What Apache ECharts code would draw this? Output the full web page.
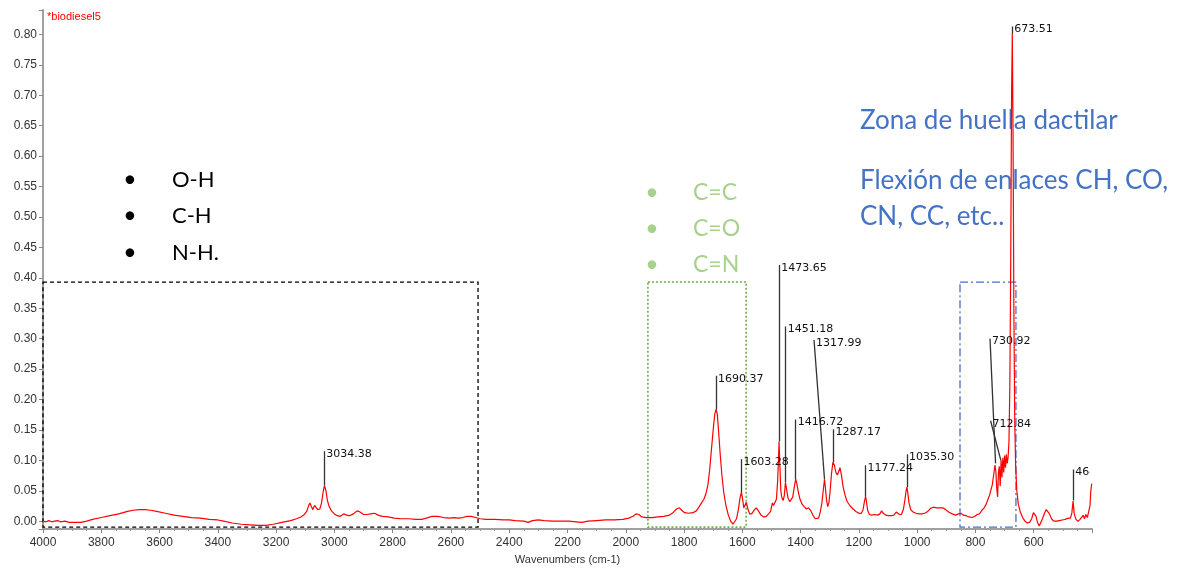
<!DOCTYPE html>
<html>
<head>
<meta charset="utf-8">
<script src="https://cdn.jsdelivr.net/npm/echarts@6/dist/echarts.min.js"></script>
<style>
html,body{margin:0;padding:0;background:#fff;}
#chart{width:1183px;height:570px;}
</style>
</head>
<body>
<div id="chart"></div>
<script>
// Spectrum: wavenumbers (cm-1) and absorbance
const wavenumbers = [
4000,3990,3980,3970,3960,3950,3940,3925,3910,3890,3870,3850,3830,3800,3770,3740,3710,3690,3670,3650,
3630,3610,3580,3550,3520,3490,3460,3430,3400,3380,3350,3320,3290,3260,3235,3210,3180,3150,3130,3115,
3105,3095,3088,3084,3079,3074,3068,3063,3057,3050,3044,3038,3034,3029,3024,3018,3010,3000,2990,2980,
2968,2958,2948,2935,2922,2912,2900,2888,2875,2862,2850,2835,2815,2795,2770,2745,2720,2700,2685,2665,
2645,2625,2605,2590,2575,2560,2545,2530,2515,2500,2480,2450,2420,2400,2380,2350,2335,2320,2300,2280,
2250,2220,2195,2170,2150,2130,2100,2070,2040,2010,1990,1975,1965,1955,1945,1930,1910,1890,1870,1850,
1838,1826,1816,1808,1798,1785,1770,1758,1748,1740,1732,1725,1718,1712,1706,1700,1695,1690,1686,1681,
1676,1670,1664,1656,1648,1640,1632,1626,1620,1614,1608,1603,1599,1595,1591,1586,1581,1575,1568,1560,
1552,1545,1536,1527,1518,1510,1503,1497,1493,1488,1483,1479,1476,1474,1471,1468,1464,1460,1456,1452,
1448,1443,1437,1432,1427,1422,1417,1413,1408,1402,1395,1388,1380,1373,1366,1358,1350,1344,1338,1332,
1327,1322,1318,1315,1311,1307,1303,1299,1294,1289,1284,1279,1274,1269,1265,1260,1254,1247,1240,1230,
1220,1210,1200,1192,1186,1181,1177,1174,1170,1164,1156,1146,1136,1128,1122,1116,1108,1098,1088,1080,
1072,1067,1061,1054,1047,1042,1038,1035,1032,1028,1022,1014,1004,994,984,974,964,954,944,934,
924,912,902,892,880,868,858,850,842,832,822,812,802,794,786,778,770,763,757,752,
747,742,737,733,730,727,724,721,718,715,712,709,706,703,700,697,694,691,688,685,
682,679,676,673.5,671,668,665,662,658,653,646,638,630,622,614,607,601,597,592,587,
581,576,570,563,557,552,546,539,531,522,512,502,492,482,474,469,465,461,455,448,
441,435,430,426,421,416,411,407,404,401
];
const absorbance = [
0.000,-0.001,0.001,-0.001,0.000,0.001,-0.001,0.000,-0.002,-0.002,-0.002,0.000,0.003,0.006,0.009,0.012,0.016,0.018,0.019,0.019,
0.018,0.016,0.013,0.010,0.008,0.006,0.005,0.003,0.002,0.000,-0.003,-0.005,-0.006,-0.007,-0.007,-0.005,-0.002,0.001,0.004,0.007,
0.010,0.016,0.026,0.030,0.024,0.019,0.026,0.024,0.019,0.020,0.030,0.050,0.059,0.050,0.034,0.024,0.017,0.012,0.009,0.008,
0.012,0.010,0.009,0.012,0.017,0.015,0.011,0.011,0.012,0.013,0.010,0.008,0.007,0.005,0.004,0.004,0.003,0.003,0.005,0.008,
0.008,0.006,0.005,0.006,0.005,0.006,0.008,0.008,0.006,0.004,0.003,0.003,0.002,0.002,0.001,0.000,-0.002,0.001,0.002,0.001,
0.000,0.000,0.000,-0.001,-0.002,0.000,0.001,0.002,0.002,0.003,0.005,0.008,0.012,0.011,0.007,0.006,0.006,0.007,0.008,0.010,
0.014,0.020,0.022,0.018,0.014,0.013,0.014,0.017,0.024,0.030,0.036,0.045,0.060,0.085,0.118,0.150,0.175,0.184,0.176,0.145,
0.110,0.075,0.048,0.025,0.010,0.000,-0.005,-0.004,0.004,0.018,0.038,0.048,0.036,0.022,0.026,0.031,0.020,0.012,0.012,0.018,
0.022,0.017,0.010,0.007,0.008,0.012,0.016,0.030,0.026,0.026,0.036,0.065,0.100,0.131,0.090,0.050,0.038,0.034,0.042,0.064,
0.052,0.038,0.032,0.030,0.040,0.055,0.069,0.062,0.048,0.036,0.028,0.024,0.020,0.022,0.018,0.010,0.004,0.001,0.005,0.016,
0.030,0.052,0.069,0.055,0.035,0.024,0.030,0.048,0.078,0.097,0.092,0.080,0.076,0.082,0.088,0.076,0.056,0.042,0.032,0.025,
0.020,0.016,0.013,0.013,0.018,0.032,0.041,0.032,0.018,0.011,0.010,0.011,0.010,0.012,0.017,0.013,0.010,0.009,0.009,0.010,
0.015,0.015,0.011,0.011,0.020,0.035,0.050,0.056,0.046,0.030,0.019,0.015,0.013,0.012,0.012,0.013,0.016,0.021,0.023,0.022,
0.022,0.022,0.019,0.015,0.012,0.010,0.012,0.013,0.010,0.009,0.007,0.006,0.008,0.011,0.012,0.018,0.022,0.028,0.036,0.042,
0.040,0.060,0.078,0.092,0.082,0.055,0.040,0.080,0.090,0.058,0.100,0.072,0.104,0.080,0.108,0.088,0.110,0.095,0.105,0.130,
0.220,0.420,0.700,0.802,0.640,0.340,0.160,0.090,0.050,0.028,0.015,0.006,0.000,-0.003,-0.002,0.004,0.014,0.016,0.008,-0.002,
-0.008,-0.005,0.004,0.013,0.019,0.020,0.012,0.004,0.000,0.000,0.001,0.002,0.003,0.005,0.005,0.014,0.033,0.012,0.003,0.000,
0.003,0.005,0.010,0.004,0.011,0.006,0.004,0.025,0.050,0.062
];

// Peak annotations
const peakNames = ['3034.38','1690.37','1603.28','1473.65','1451.18','1416.72','1317.99','1287.17','1177.24','1035.30','730.92','712.84','673.51','464.76'];
const peakWn    = [3034.38,1690.37,1603.28,1473.65,1451.18,1416.72,1317.99,1287.17,1177.24,1035.30,730.92,712.84,673.51,464.76];
const peakAbs   = [0.059,0.184,0.048,0.131,0.064,0.069,0.069,0.097,0.041,0.056,0.095,0.100,0.802,0.034];
const tagWn     = [3034.38,1690.37,1603.28,1473.65,1451.18,1416.72,1354,1287.17,1177.24,1035.30,750,748,673.51,464.76];
const tagAbs    = [0.115,0.239,0.102,0.421,0.320,0.167,0.298,0.151,0.092,0.110,0.300,0.165,0.813,0.085];

// Highlighted regions [wnStart, absTop, wnEnd, absBottom]
const regionBlack = [4000, 0.393, 2507, -0.0098];
const regionGreen = [1924, 0.393, 1587, -0.0098];
const regionBlue  = [853, 0.393, 661, -0.0098];

// Annotation texts
const listBlack = ['O-H', 'C-H', 'N-H.'];
const listGreen = ['C=C', 'C=O', 'C=N'];
const blueLines = ['Zona de huella dactilar', 'Flexión de enlaces CH, CO,', 'CN, CC, etc..'];

const chart = echarts.init(document.getElementById('chart'), null, {renderer: 'canvas'});

const seriesData = wavenumbers.map((w, i) => [w, absorbance[i]]);
const markLines = peakWn.map((w, i) => [{coord: [w, peakAbs[i]]}, {coord: [tagWn[i], tagAbs[i]]}]);
const markPoints = peakNames.map((n, i) => ({name: n, coord: [tagWn[i], tagAbs[i]]}));

function box(r, color, type, width) {
  return [{coord: [r[0], r[1]], itemStyle: {color: 'rgba(0,0,0,0)', borderColor: color, borderType: type, borderWidth: width}},
          {coord: [r[2], r[3]]}];
}

const graphics = [];
graphics.push({type: 'text', left: 47, top: 11, z: 5,
  style: {text: '*biodiesel5', fill: '#ff0000', font: '11px "Liberation Sans"'}});
const blackY = [180, 216, 253];
listBlack.forEach((t, i) => {
  graphics.push({type: 'text', x: 130, y: blackY[i], style: {text: '•', fill: '#000', font: '23px Lato', align: 'center', verticalAlign: 'middle'}});
  graphics.push({type: 'text', x: 172, y: blackY[i], style: {text: t, fill: '#000', font: '22px Lato', verticalAlign: 'middle'}});
});
const greenY = [193, 229, 265];
listGreen.forEach((t, i) => {
  graphics.push({type: 'text', x: 652, y: greenY[i], style: {text: '•', fill: '#a9d18e', font: '23px Lato', align: 'center', verticalAlign: 'middle'}});
  graphics.push({type: 'text', x: 693, y: greenY[i], style: {text: t, fill: '#a9d18e', font: '23px Lato', verticalAlign: 'middle'}});
});
const blueY = [121, 181, 217];
blueLines.forEach((t, i) => {
  graphics.push({type: 'text', x: 860, y: blueY[i], style: {text: t, fill: '#4472c4', font: '26px Lato', verticalAlign: 'middle'}});
});
// cut-off of the last peak label at the plot edge
graphics.push({type: 'rect', z: 100, shape: {x: 1090, y: 462, width: 93, height: 19}, style: {fill: '#ffffff'}});

const option = {
  animation: false,
  grid: {left: 43, right: 91, top: 10, bottom: 40},
  xAxis: {
    type: 'value', inverse: true, min: 400, max: 4000, interval: 200,
    name: 'Wavenumbers (cm-1)', nameLocation: 'middle', nameGap: 24,
    nameTextStyle: {fontFamily: 'Liberation Sans', fontSize: 11, color: '#333'},
    axisLine: {onZero: false, lineStyle: {color: '#a0a0a0', width: 2}},
    axisTick: {length: 4, lineStyle: {color: '#888'}},
    minorTick: {show: true, splitNumber: 4, length: 2, lineStyle: {color: '#999'}},
    splitLine: {show: false},
    axisLabel: {fontFamily: 'Liberation Sans', fontSize: 12, color: '#333', margin: 8,
      formatter: v => (v === 400 ? '' : String(v))}
  },
  yAxis: {
    type: 'value', min: -0.013, max: 0.84, splitNumber: 17,
    axisLine: {show: true, lineStyle: {color: '#a0a0a0', width: 2}},
    axisTick: {show: true, length: 4, lineStyle: {color: '#888'}},
    splitLine: {show: false},
    axisLabel: {fontFamily: 'Liberation Sans', fontSize: 12, color: '#333', margin: 6,
      formatter: v => (v < -0.001 || v > 0.801 ? '' : v.toFixed(2))}
  },
  graphic: graphics,
  series: [{
    type: 'line', data: seriesData, showSymbol: false, symbol: 'none',
    lineStyle: {color: '#ff0000', width: 1.2}, itemStyle: {color: '#ff0000'},
    silent: true,
    markArea: {silent: true, data: [
      box(regionBlack, '#000000', [4, 3], 1.3),
      box(regionGreen, '#70ad47', [2, 2], 1.6),
      box(regionBlue, '#4472c4', [8, 3, 2, 3], 1.3)
    ]},
    markLine: {silent: true, symbol: ['none', 'none'], label: {show: false},
      lineStyle: {color: '#333', width: 1.3, type: 'solid'}, emphasis: {disabled: true}, data: markLines},
    markPoint: {silent: true, symbol: 'circle', symbolSize: 0,
      label: {show: true, formatter: '{b}', position: 'right', distance: 2, offset: [0, 3],
        color: '#111', fontFamily: 'DejaVu Sans', fontSize: 11},
      data: markPoints}
  }]
};
chart.setOption(option);
</script>
</body>
</html>
